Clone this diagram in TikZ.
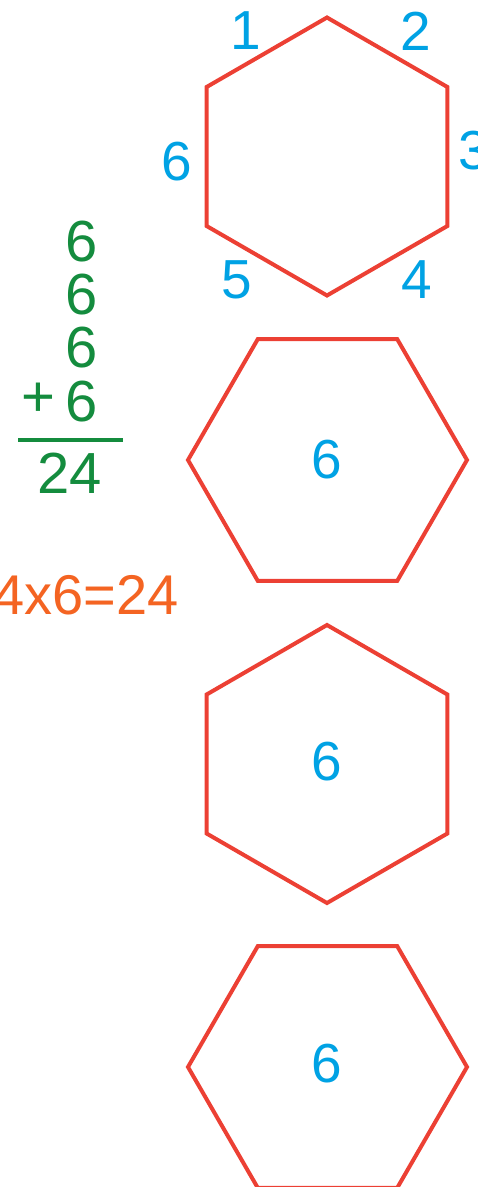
\documentclass[tikz,border=0pt]{standalone}
\usepackage{fontspec}
\setmainfont{Liberation Sans}
\definecolor{hexred}{RGB}{236,64,52}
\definecolor{numblue}{RGB}{0,162,228}
\definecolor{sumgreen}{RGB}{20,140,62}
\definecolor{eqorange}{RGB}{244,100,34}
\begin{document}
\begin{tikzpicture}[x=1pt,y=-1pt,
  hex/.style={draw=hexred,line width=4pt,line join=miter},
  bluenum/.style={text=numblue,font=\fontsize{55}{55}\selectfont,inner sep=0pt},
  greennum/.style={text=sumgreen,font=\fontsize{58}{58}\selectfont,inner sep=0pt},
  orangeeq/.style={text=eqorange,font=\fontsize{56}{56}\selectfont,inner sep=0pt}]
\useasboundingbox (0,0) rectangle (477,1187);
\clip (0,0) rectangle (477,1187);
% hexagons
\draw[hex] (327,156.5) +(90:139) -- +(30:139) -- +(-30:139) -- +(-90:139) -- +(-150:139) -- +(150:139) -- cycle;
\draw[hex] (327.5,460) +(0:139.5) -- +(60:139.5) -- +(120:139.5) -- +(180:139.5) -- +(240:139.5) -- +(300:139.5) -- cycle;
\draw[hex] (327,764) +(90:139) -- +(30:139) -- +(-30:139) -- +(-90:139) -- +(-150:139) -- +(150:139) -- cycle;
\draw[hex] (327.5,1067) +(0:139.5) -- +(60:139.5) -- +(120:139.5) -- +(180:139.5) -- +(240:139.5) -- +(300:139.5) -- cycle;
% side numbers
\node[bluenum] (s1) at (246,31) {1};
\node[bluenum] (s2) at (416,31) {2};
\node[bluenum,anchor=west] (s3) at (458,151) {3};
\node[bluenum] (s4) at (417,280) {4};
\node[bluenum] (s5) at (237,280) {5};
\node[bluenum] (s6) at (177,162) {6};
% centre numbers
\node[bluenum] (c2) at (327,460) {6};
\node[bluenum] (c3) at (327,762) {6};
\node[bluenum] (c4) at (327,1064) {6};
% addition
\node[greennum] (g1) at (82,242) {6};
\node[greennum] (g2) at (82,295) {6};
\node[greennum] (g3) at (82,348) {6};
\node[greennum] (g4) at (82,402) {6};
\node[greennum] (gp) at (38,400) {+};
\coordinate (la) at (18,440);
\coordinate (lb) at (123,440);
\draw[sumgreen,line width=4pt] (la) -- (lb);
\node[greennum] (gs) at (70,473) {24};
% equation
\node[orangeeq,anchor=east] (eq) at (179,595) {4x6=24};
\end{tikzpicture}
\end{document}
